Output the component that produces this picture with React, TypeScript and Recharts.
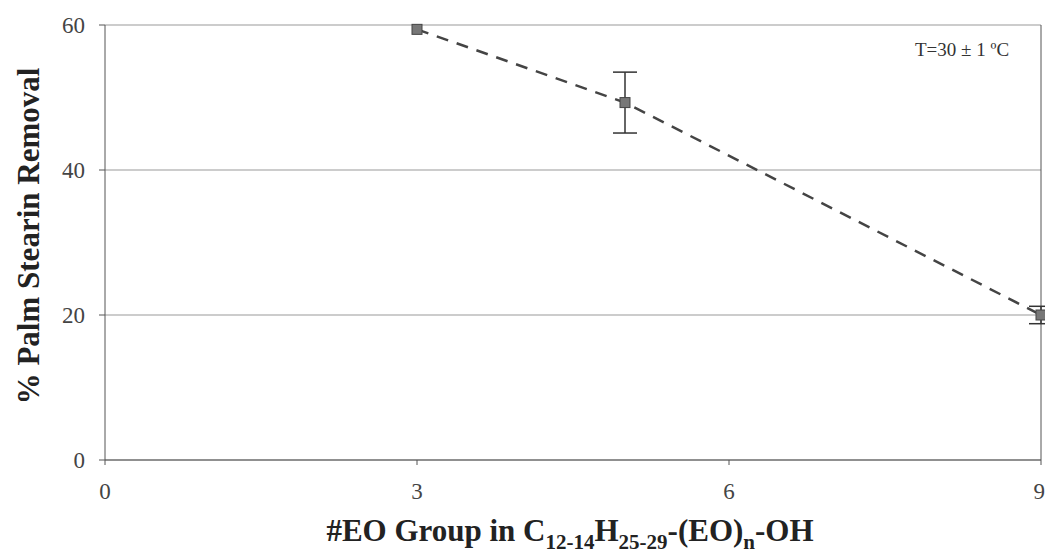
import { ComposedChart, Line, XAxis, YAxis, CartesianGrid, ErrorBar, ReferenceLine } from "recharts";

const eoGroups = [3, 5, 9];
const removal = [59.4, 49.3, 20.0];
const errors = [0, 4.2, 1.2];

const xTicks = [0, 3, 6, 9];
const yTicks = [0, 20, 40, 60];

const data = eoGroups.map((n, i) => ({ n, removal: removal[i], err: errors[i] }));

const font = "'Liberation Serif', 'Times New Roman', serif";

const SquareDot = (props: any) => {
  const { cx, cy } = props;
  if (cx == null || cy == null) return null;
  return <rect x={cx - 5} y={cy - 5} width={10} height={10} fill="#777" stroke="#444" strokeWidth={1} />;
};

const YLabel = () => (
  <text
    x={28}
    y={236}
    transform="rotate(-90 28 236)"
    textAnchor="middle"
    dominantBaseline="central"
    style={{ fontFamily: font, fontWeight: "bold", fontSize: 31 }}
    fill="#222"
  >
    % Palm Stearin Removal
  </text>
);

const XLabel = () => (
  <text x={570} y={541} textAnchor="middle" style={{ fontFamily: font, fontWeight: "bold", fontSize: 31 }} fill="#222">
    #EO Group in C
    <tspan fontSize={21} dy={8}>12-14</tspan>
    <tspan dy={-8}>H</tspan>
    <tspan fontSize={21} dy={8}>25-29</tspan>
    <tspan dy={-8}>-(EO)</tspan>
    <tspan fontSize={21} dy={8}>n</tspan>
    <tspan dy={-8}>-OH</tspan>
  </text>
);

const tickStyle = { fontFamily: font, fontSize: 23, fill: "#444" };

export default function App() {
  return (
    <div style={{ position: "absolute", left: 0, top: 0, width: 1045, height: 554, background: "#fff" }}>
      <ComposedChart width={1045} height={554} data={data} margin={{ top: 25, right: 4, left: 0, bottom: 0 }}>
        <CartesianGrid horizontal vertical={false} stroke="#999" />
        <XAxis
          dataKey="n"
          type="number"
          domain={[0, 9]}
          ticks={xTicks}
          height={94}
          stroke="#555"
          tickSize={5}
          tickMargin={18}
          tick={{ style: tickStyle }}
          label={<XLabel />}
        />
        <YAxis
          type="number"
          domain={[0, 60]}
          ticks={yTicks}
          width={105}
          stroke="#555"
          tickSize={6}
          tickMargin={14}
          tick={{ style: tickStyle }}
          label={<YLabel />}
        />
        <ReferenceLine x={9} stroke="#555" />
        <Line
          dataKey="removal"
          stroke="#444"
          strokeWidth={2.5}
          strokeDasharray="12 9"
          dot={<SquareDot />}
          isAnimationActive={false}
        >
          <ErrorBar dataKey="err" direction="y" width={12} stroke="#333" strokeWidth={1.5} />
        </Line>
      </ComposedChart>
      <div
        style={{
          position: "absolute",
          left: 915,
          top: 39,
          fontFamily: font,
          fontSize: 19,
          color: "#333",
          whiteSpace: "nowrap",
        }}
      >
        T=30 ± 1 ºC
      </div>
    </div>
  );
}
